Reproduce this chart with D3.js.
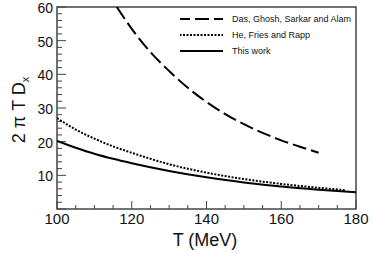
<!DOCTYPE html>
<html><head><meta charset="utf-8">
<script src="https://cdn.jsdelivr.net/npm/d3@7"></script>
<style>body{margin:0;background:#fff}svg{display:block}text{font-family:"Liberation Sans",Arial,sans-serif}</style>
</head><body><svg id="c" width="374" height="253"></svg>
<script>
// Data
const dasT   = [116, 120, 125, 130, 135, 140, 145, 150, 155, 160, 165, 170];
const dasV   = [60, 53.5, 46.6, 41, 36, 31.8, 28.2, 25.2, 22.6, 20.4, 18.5, 16.7];
const heT    = [100, 105, 110, 115, 120, 130, 140, 150, 160, 170, 177];
const heV    = [27, 23.6, 20.9, 18.6, 16.7, 13.3, 10.8, 8.9, 7.45, 6.3, 5.6];
const thisT  = [100, 105, 110, 115, 120, 130, 140, 150, 160, 170, 180];
const thisV  = [20.2, 18.2, 16.4, 14.9, 13.6, 11.3, 9.4, 7.9, 6.7, 5.75, 4.95];
const xTicks = [100, 120, 140, 160, 180];
const yTicks = [10, 20, 30, 40, 50, 60];
const legendLabels = ["Das, Ghosh, Sarkar and Alam", "He, Fries and Rapp", "This work"];

const svg = d3.select("#c");
const L = 57, R = 356, T = 7, B = 209;
const x = d3.scaleLinear().domain([100, 180]).range([L, R]);
const y = d3.scaleLinear().domain([0, 60]).range([B, T]);
const axisCol = "#444";

// minor + major ticks (inward)
const gx = svg.append("g");
d3.range(100, 180.01, 5).forEach(v => {
  const major = v % 20 === 0;
  gx.append("line").attr("x1", x(v)).attr("x2", x(v)).attr("y1", B).attr("y2", B - (major ? 8 : 4))
    .attr("stroke", axisCol).attr("stroke-width", 1);
});
const gy = svg.append("g");
d3.range(0, 60.01, 2).forEach(v => {
  const major = v % 10 === 0;
  gy.append("line").attr("x1", L).attr("x2", L + (major ? 9 : 5)).attr("y1", y(v)).attr("y2", y(v))
    .attr("stroke", axisCol).attr("stroke-width", 1);
});

// frame
svg.append("rect").attr("x", L).attr("y", T).attr("width", R - L).attr("height", B - T)
  .attr("fill", "none").attr("stroke", axisCol).attr("stroke-width", 1.5);

// tick labels
svg.append("g").selectAll("text").data(xTicks).join("text")
  .attr("x", d => x(d)).attr("y", 224).attr("text-anchor", "middle")
  .attr("font-size", 15).attr("fill", "#111").text(d => d);
svg.append("g").selectAll("text").data(yTicks).join("text")
  .attr("x", 53).attr("y", d => y(d) + 6).attr("text-anchor", "end")
  .attr("font-size", 14).attr("fill", "#111").text(d => d);

// axis titles
svg.append("text").attr("x", 205).attr("y", 246).attr("text-anchor", "middle")
  .attr("font-size", 18).attr("fill", "#111").text("T (MeV)");
const yl = svg.append("text").attr("transform", "translate(25,110) rotate(-90)")
  .attr("text-anchor", "middle").attr("font-size", 18).attr("fill", "#111");
yl.append("tspan").text("2 π T D");
yl.append("tspan").attr("font-size", 11).attr("dy", 4).text("x");

// curves
svg.append("clipPath").attr("id", "pc").append("rect")
  .attr("x", L).attr("y", T).attr("width", R - L).attr("height", B - T);
const line = d3.line().x(d => x(d[0])).y(d => y(d[1])).curve(d3.curveMonotoneX);
const series = [
  {t: dasT, v: dasV, dash: "14,5"},
  {t: heT, v: heV, dash: "2,1.5"},
  {t: thisT, v: thisV, dash: null}
];
series.forEach(s => {
  svg.append("path").attr("d", line(s.t.map((t, i) => [t, s.v[i]])))
    .attr("fill", "none").attr("stroke", "#000").attr("stroke-width", 2)
    .attr("stroke-dasharray", s.dash).attr("clip-path", "url(#pc)");
});

// legend
series.forEach((s, i) => {
  const yy = 19 + i * 16;
  svg.append("line").attr("x1", 180).attr("x2", 223).attr("y1", yy).attr("y2", yy)
    .attr("stroke", "#000").attr("stroke-width", 2).attr("stroke-dasharray", s.dash)
    .attr("stroke-dashoffset", 4);
  svg.append("text").attr("x", 232).attr("y", yy + 3).attr("font-size", 9).attr("fill", "#111")
    .text(legendLabels[i]);
});
</script></body></html>
